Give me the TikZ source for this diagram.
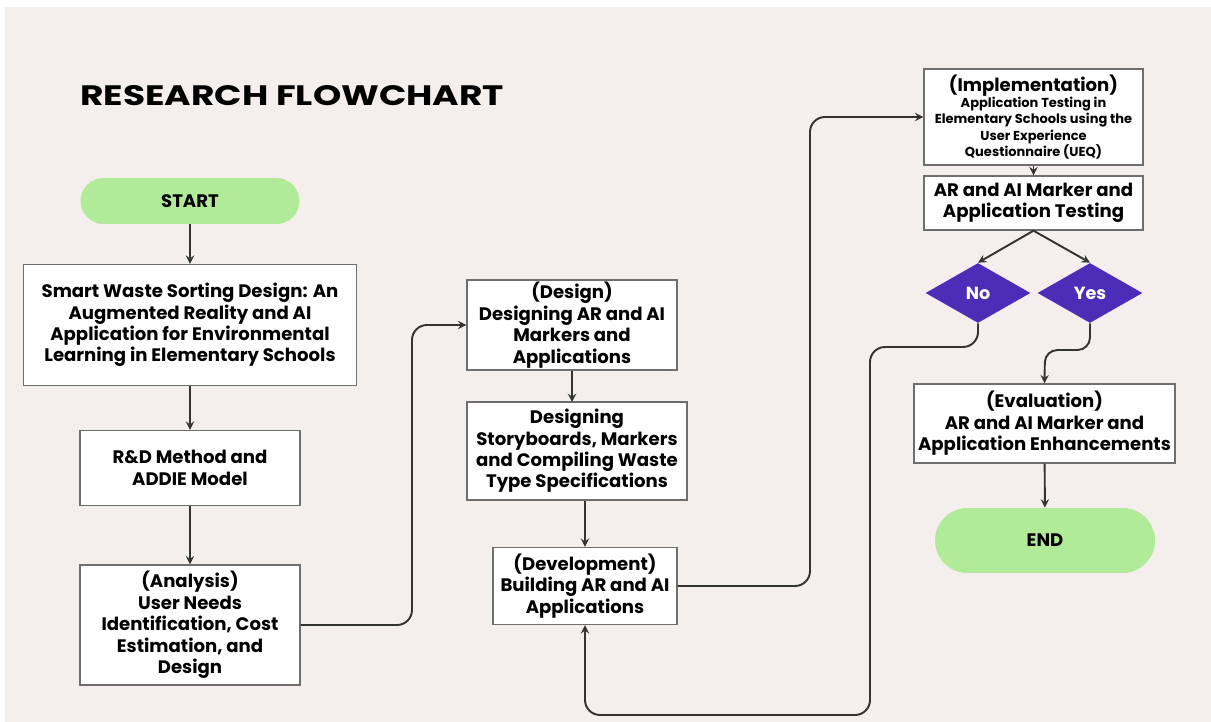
\documentclass[tikz,border=0pt]{standalone}
\usepackage{fontspec}
\setmainfont{Poppins}
\usepackage{tikz}
\usetikzlibrary{shapes.geometric, arrows, positioning}
\usepackage{xcolor}
\definecolor{paper}{HTML}{F4EFEC}
\definecolor{pillgreen}{HTML}{B1EA98}
\definecolor{decpurple}{HTML}{4B2DB8}
\definecolor{boxgray}{HTML}{6E6E6E}
\definecolor{linegray}{HTML}{333333}
\newcommand{\smalltxt}{\fontsize{7.4}{8.6}\selectfont}
\tikzstyle{startstop} = [rectangle, fill=pillgreen, align=center, font=\bfseries\fontsize{10.3}{12}\selectfont]
\tikzstyle{process} = [rectangle, draw=boxgray, line width=0.8pt, fill=white, align=center, inner sep=1pt, font=\bfseries\fontsize{10.3}{12.2}\selectfont]
\tikzstyle{decision} = [diamond, fill=decpurple, text=white, inner sep=0pt, minimum width=2.1cm, minimum height=1.2cm, font=\bfseries\fontsize{10}{12}\selectfont]
\tikzstyle{arrow} = [line width=1.1pt, draw=linegray, ->, >=stealth]

\begin{document}
\begin{tikzpicture}[x=0.02cm, y=-0.02cm]
        \fill[white] (0,0) rectangle (1211,722);
        \fill[paper] (5,7) rectangle (1211,722);
        \node[anchor=west, inner sep=0pt, font=\bfseries\fontsize{16}{19}\selectfont] (title) at (80,96) {\scalebox{1.28}[1]{RESEARCH FLOWCHART}};

        \node[startstop, minimum width=4.38cm, minimum height=0.92cm, rounded corners=0.46cm] (start) at (190,201) {START};
        \node[process, minimum width=6.66cm, minimum height=2.42cm] (topic) at (190,325) {Smart Waste Sorting Design: An\\Augmented Reality and AI\\Application for Environmental\\Learning in Elementary Schools};
        \node[process, minimum width=4.4cm, minimum height=1.5cm] (method) at (190,468) {R\&D Method and\\ADDIE Model};
        \node[process, minimum width=4.4cm, minimum height=2.4cm] (analysis) at (190,625) {(Analysis)\\User Needs\\Identification, Cost\\Estimation, and\\Design};

        \node[process, minimum width=4.2cm, minimum height=1.8cm] (design) at (572,325) {(Design)\\Designing AR and AI\\Markers and\\Applications};
        \node[process, minimum width=4.4cm, minimum height=1.96cm] (story) at (577,451) {Designing\\Storyboards, Markers\\and Compiling Waste\\Type Specifications};
        \node[process, minimum width=3.68cm, minimum height=1.54cm] (develop) at (585,586) {(Development)\\Building AR and AI\\Applications};

        \node[process, minimum width=4.38cm, minimum height=1.92cm] (implement) at (1033.5,117) {(Implementation)\\[-3pt]\smalltxt Application Testing in\\[-3pt]\smalltxt Elementary Schools using the\\[-3pt]\smalltxt User Experience\\[-3pt]\smalltxt Questionnaire (UEQ)};
        \node[process, minimum width=4.38cm, minimum height=1.08cm] (testing) at (1033.5,203) {AR and AI Marker and\\Application Testing};
        \node[decision] (no) at (978,293) {No};
        \node[decision] (yes) at (1090,293) {Yes};
        \node[process, minimum width=5.22cm, minimum height=1.58cm] (evaluate) at (1044.5,423.5) {(Evaluation)\\AR and AI Marker and\\Application Enhancements};
        \node[startstop, minimum width=4.4cm, minimum height=1.3cm, rounded corners=0.65cm] (end) at (1045,540.5) {END};

        \draw[arrow] (start) -- (topic);
        \draw[arrow] (topic) -- (method);
        \draw[arrow] (method) -- (analysis);
        \draw[arrow, rounded corners=0.3cm] (analysis.east) -- (412,625) -- (412,325) -- (design.west);
        \draw[arrow] (design.south) -- (572,402);
        \draw[arrow] (story.south -| develop.north) -- (develop.north);
        \draw[arrow, rounded corners=0.3cm] (develop.east) -- (810,586) -- (810,117) -- (implement.west);
        \draw[arrow] (implement) -- (testing);
        \draw[arrow] (testing.south) -- (no.north);
        \draw[arrow] (testing.south) -- (yes.north);
        \draw[arrow, rounded corners=0.3cm] (no.south) |- (870,347) -- (870,715) -| (develop.south);
        \draw[arrow, rounded corners=0.25cm] (yes.south) |- (1045,350) -- (evaluate.north);
        \draw[arrow] (evaluate) -- (end);
      \end{tikzpicture}
\end{document}
